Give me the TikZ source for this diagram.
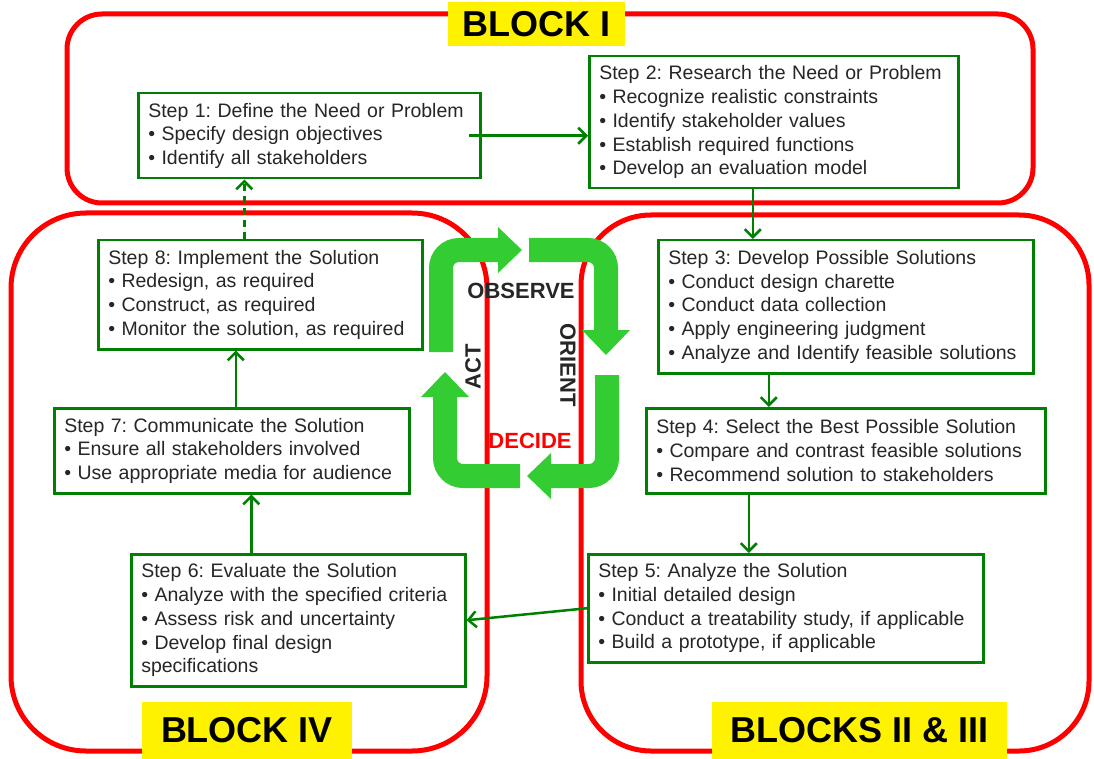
\documentclass[tikz,border=0pt]{standalone}
\usepackage{fontspec}
\setmainfont{Liberation Sans}
\usepackage{tikz}
\usetikzlibrary{arrows.meta,calc,positioning}
\definecolor{stepgreen}{RGB}{0,128,0}
\definecolor{oodagreen}{RGB}{51,204,51}
\definecolor{textgrey}{RGB}{38,38,38}
\tikzset{  stepbox/.style={draw=stepgreen,line width=2.5pt,fill=white,text=textgrey,align=left,anchor=north west,inner xsep=10pt,inner ysep=3pt,font=\fontsize{19.5}{23.75}\selectfont,execute at begin node={\frenchspacing\hyphenpenalty=10000\exhyphenpenalty=10000}} }
\tikzset{  blockline/.style={draw=red,line width=5pt} }
\tikzset{  blocktag/.style={fill=yellow,inner sep=0pt,font=\bfseries\fontsize{36}{40}\selectfont} }
\tikzset{  conn/.style={draw=stepgreen,line width=2.5pt,-{Straight Barb[length=8pt,width=16pt]}} }
\tikzset{  oodabar/.style={draw=oodagreen,line width=24pt,rounded corners=18pt} }
\tikzset{  oodalabel/.style={text=textgrey,inner sep=0pt,font=\bfseries\fontsize{22}{26}\selectfont} }
\newcommand{\itm}{\textbullet\ }

\begin{document}
\begin{tikzpicture}[x=1pt,y=-1pt]
   \useasboundingbox (0,0) rectangle (1094,759);
   % blocks
   \draw[blockline,rounded corners=35pt] (67,14) rectangle (1033,203);
   \draw[blockline,rounded corners=75pt] (11,213) rectangle (487,751);
   \draw[blockline,rounded corners=70pt] (581,215) rectangle (1089,751);
   % steps
   \node[stepbox,text width=322pt,minimum height=85pt] (s1) at (137,92) {Step 1: Define the Need or Problem\\ \itm Specify design objectives\\ \itm Identify all stakeholders};
   \node[stepbox,text width=349pt,minimum height=132pt] (s2) at (588,55) {Step 2: Research the Need or Problem\\ \itm Recognize realistic constraints\\ \itm Identify stakeholder values\\ \itm Establish required functions\\ \itm Develop an evaluation model};
   \node[stepbox,text width=355pt,minimum height=133pt] (s3) at (657,239) {Step 3: Develop Possible Solutions\\ \itm Conduct design charette\\ \itm Conduct data collection\\ \itm Apply engineering judgment\\ \itm Analyze and Identify feasible solutions};
   \node[stepbox,text width=379pt,minimum height=85pt] (s4) at (645,407) {Step 4: Select the Best Possible Solution\\ \itm Compare and contrast feasible solutions\\ \itm Recommend solution to stakeholders};
   \node[stepbox,text width=375pt,minimum height=108pt] (s5) at (587,553) {Step 5: Analyze the Solution\\ \itm Initial detailed design\\ \itm Conduct a treatability study, if applicable\\ \itm Build a prototype, if applicable};
   \node[stepbox,text width=314pt,minimum height=132pt] (s6) at (130,553) {Step 6: Evaluate the Solution\\ \itm Analyze with the specified criteria\\ \itm Assess risk and uncertainty\\ \itm Develop final design\\ specifications};
   \node[stepbox,text width=335pt,minimum height=85pt] (s7) at (53,407) {Step 7: Communicate the Solution\\ \itm Ensure all stakeholders involved\\ \itm Use appropriate media for audience};
   \node[stepbox,text width=304pt,minimum height=109pt] (s8) at (97,239) {Step 8: Implement the Solution\\ \itm Redesign, as required\\ \itm Construct, as required\\ \itm Monitor the solution, as required};
   % connectors
   \draw[conn] ([xshift=-13pt]s1.east) -- (s1.east -| s2.west);
   \draw[conn] ([xshift=-21pt]s2.south) -- ([xshift=-21pt]s2.south |- s3.north);
   \draw[conn] ([xshift=-77pt]s3.south) -- ([xshift=-77pt]s3.south |- s4.north);
   \draw[conn] ([xshift=-97pt]s4.south) -- ([xshift=-97pt]s4.south |- s5.north);
   \draw[conn] (s5.west) -- (s6.east);
   \draw[conn] ([xshift=-47pt]s6.north) -- ([xshift=-47pt]s6.north |- s7.south);
   \draw[conn] ([xshift=4pt]s7.north) -- ([xshift=4pt]s7.north |- s8.south);
   \draw[conn,dash pattern=on 7pt off 5pt] ([xshift=-16pt]s8.north) -- ([xshift=-16pt]s8.north |- s1.south);
   % ooda loop
   \draw[oodabar] (441,352) -- (441,250) -- (499,250);
   \fill[oodagreen] (498,227) -- (522,250) -- (498,273) -- cycle;
   \draw[oodabar] (529,250) -- (606,250) -- (606,331);
   \fill[oodagreen] (582,330) -- (630,330) -- (606,355) -- cycle;
   \draw[oodabar] (607,375) -- (607,476) -- (550,476);
   \fill[oodagreen] (551,453) -- (551,499) -- (527,476) -- cycle;
   \draw[oodabar] (520,476) -- (445,476) -- (445,396);
   \fill[oodagreen] (421,397) -- (469,397) -- (445,372) -- cycle;
   \node[oodalabel] (obs) at (521,291) {OBSERVE};
   \node[oodalabel,rotate=-90] (ori) at (568,365) {ORIENT};
   \node[oodalabel,rotate=90] (act) at (473,367) {ACT};
   \node[oodalabel,text=red] (dec) at (530,441) {DECIDE};
   % block tags
   \node[blocktag,minimum width=177pt,minimum height=44pt] (b1) at (536.5,24) {BLOCK I};
   \node[blocktag,minimum width=210pt,minimum height=57pt] (b4) at (247,730.5) {BLOCK IV};
   \node[blocktag,minimum width=295pt,minimum height=57pt] (b23) at (859.5,730.5) {BLOCKS II \& III};
  \end{tikzpicture}
\end{document}
